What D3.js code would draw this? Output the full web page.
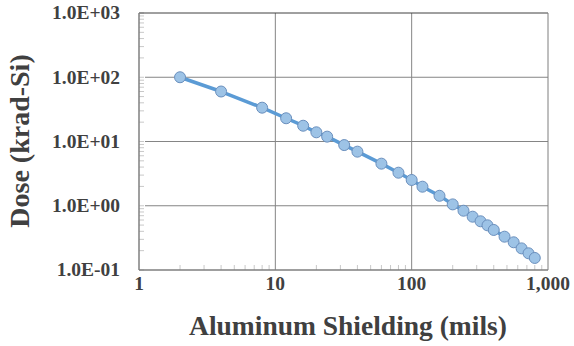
<!DOCTYPE html>
<html>
<head>
<meta charset="utf-8">
<script src="https://cdn.jsdelivr.net/npm/d3@7"></script>
<style>
  html, body { margin: 0; padding: 0; background: #fff; }
  svg { display: block; }
</style>
</head>
<body>
<svg id="chart" width="574" height="346"></svg>
<script>
// shielding thickness (mils) and dose (krad-Si)
const shielding = [2, 4, 8, 12, 16, 20, 24, 32, 40, 60, 80, 100, 120, 160, 200,
                   240, 280, 320, 360, 400, 480, 560, 640, 720, 800];
const dose = [100, 60, 33.6, 23, 17.6, 13.9, 11.9, 8.8, 6.95, 4.52, 3.27, 2.52, 1.98,
              1.43, 1.05, 0.837, 0.676, 0.573, 0.496, 0.42, 0.33, 0.27, 0.217, 0.182, 0.154];
const xTicks = [1, 10, 100, 1000];
const yTicks = [0.1, 1, 10, 100, 1000];

const FONT = "'Liberation Serif', 'Times New Roman', Tinos, 'DejaVu Serif', serif";
const svg = d3.select('#chart');
const plotL = 139, plotR = 548, plotT = 13, plotB = 270;

const x = d3.scaleLog().domain([1, 1000]).range([plotL, plotR]);
const y = d3.scaleLog().domain([0.1, 1000]).range([plotB, plotT]);

// minor tick positions (2..9 of each decade)
const xMinor = [], yMinor = [];
[1, 10, 100].forEach(d => { for (let k = 2; k <= 9; k++) xMinor.push(d * k); });
[0.1, 1, 10, 100].forEach(d => { for (let k = 2; k <= 9; k++) yMinor.push(d * k); });

// gridlines
svg.append('g').selectAll('line')
  .data(xTicks.slice(1, -1)).enter().append('line')
  .attr('x1', d => x(d)).attr('x2', d => x(d))
  .attr('y1', plotT).attr('y2', plotB)
  .attr('stroke', '#858585').attr('stroke-width', 1);

svg.append('g').selectAll('line')
  .data(yTicks.slice(1, -1)).enter().append('line')
  .attr('x1', plotL + 6).attr('x2', plotR)
  .attr('y1', d => y(d)).attr('y2', d => y(d))
  .attr('stroke', '#858585').attr('stroke-width', 1);

// minor ticks
svg.append('g').selectAll('line')
  .data(xMinor).enter().append('line')
  .attr('x1', d => x(d)).attr('x2', d => x(d))
  .attr('y1', plotB).attr('y2', plotB - 5)
  .attr('stroke', '#c8c8c8');

svg.append('g').selectAll('line')
  .data(yMinor.concat(yTicks)).enter().append('line')
  .attr('x1', plotL).attr('x2', plotL + 5)
  .attr('y1', d => y(d)).attr('y2', d => y(d))
  .attr('stroke', '#c8c8c8');

// frame
svg.append('line').attr('x1', plotL).attr('x2', plotR).attr('y1', plotT).attr('y2', plotT)
  .attr('stroke', '#404040');
svg.append('line').attr('x1', plotR).attr('x2', plotR).attr('y1', plotT).attr('y2', plotB)
  .attr('stroke', '#7f7f7f');
svg.append('line').attr('x1', plotL).attr('x2', plotL).attr('y1', plotT).attr('y2', plotB)
  .attr('stroke', '#7f7f7f').attr('stroke-width', 1.5);
svg.append('line').attr('x1', plotL).attr('x2', plotR).attr('y1', plotB).attr('y2', plotB)
  .attr('stroke', '#7f7f7f').attr('stroke-width', 1.5);

// tick labels
svg.append('g').selectAll('text')
  .data(yTicks).enter().append('text')
  .attr('x', 120).attr('y', d => y(d)).attr('dy', '0.33em')
  .attr('text-anchor', 'end')
  .attr('font-family', FONT).attr('font-weight', 'bold').attr('fill', '#404040')
  .attr('font-size', 19.5)
  .text(d => d.toExponential(1).toUpperCase().replace(/E([+-])(\d)$/, 'E$10$2'));

svg.append('g').selectAll('text')
  .data(xTicks).enter().append('text')
  .attr('x', d => x(d)).attr('y', 290)
  .attr('text-anchor', 'middle')
  .attr('font-family', FONT).attr('font-weight', 'bold').attr('fill', '#404040')
  .attr('font-size', 19.5)
  .text(d => d3.format(',')(d));

// series
const pts = shielding.map((s, i) => [s, dose[i]]);
svg.append('path').datum(pts)
  .attr('d', d3.line().x(d => x(d[0])).y(d => y(d[1])))
  .attr('fill', 'none').attr('stroke', '#5b9bd5').attr('stroke-width', 3.5)
  .attr('stroke-linejoin', 'round');

svg.append('g').selectAll('circle')
  .data(pts).enter().append('circle')
  .attr('cx', d => x(d[0])).attr('cy', d => y(d[1])).attr('r', 5.5)
  .attr('fill', '#9dc3e6').attr('stroke', '#6a8fbd').attr('stroke-width', 1);

// axis titles
svg.append('text').attr('x', 348).attr('y', 335)
  .attr('text-anchor', 'middle')
  .attr('font-family', FONT).attr('font-weight', 'bold').attr('fill', '#404040')
  .attr('font-size', 27.5)
  .text('Aluminum Shielding (mils)');

svg.append('text').attr('transform', 'translate(29,141) rotate(-90)')
  .attr('text-anchor', 'middle')
  .attr('font-family', FONT).attr('font-weight', 'bold').attr('fill', '#404040')
  .attr('font-size', 28)
  .text('Dose (krad-Si)');
</script>
</body>
</html>
